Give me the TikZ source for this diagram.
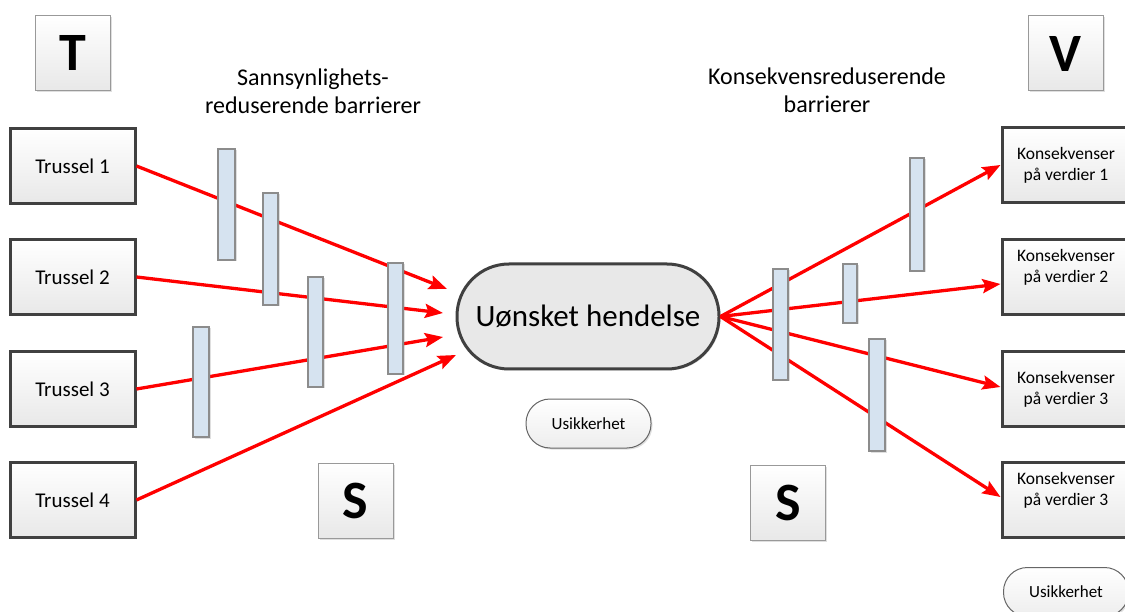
\documentclass[tikz,border=0pt]{standalone}
\usepackage{fontspec}
\setmainfont{Carlito}
\usetikzlibrary{arrows.meta,shadows}

\definecolor{edgegray}{RGB}{64,64,64}
\definecolor{barblue}{RGB}{214,227,240}
\definecolor{bargray}{RGB}{140,140,140}

\tikzset{
  softshadow/.style={drop shadow={shadow xshift=1.5pt,shadow yshift=-1.5pt,opacity=.25}},
  threatbox/.style={draw=edgegray, line width=3pt, top color=white, bottom color=black!9,
    minimum width=125pt, minimum height=75pt, inner sep=0pt, softshadow,
    font=\fontsize{21}{24}\selectfont},
  valuebox/.style={threatbox, minimum width=128pt, align=center,
    font=\fontsize{17.5}{21}\selectfont},
  raised/.style={text depth=22pt},
  letterbox/.style={draw=black!40, line width=1pt, top color=white, bottom color=black!9,
    minimum width=75pt, minimum height=75pt, inner sep=0pt, softshadow,
    font=\fontsize{54}{54}\selectfont\bfseries},
  barrier/.style={draw=bargray, line width=1.2pt, fill=barblue, inner sep=0pt, softshadow},
  eventbox/.style={draw=edgegray, line width=3pt, fill=black!9, rounded corners=52pt,
    minimum width=262pt, minimum height=105pt, softshadow,
    font=\fontsize{31}{36}\selectfont},
  doubtbox/.style={draw=black!60, line width=1pt, top color=white, bottom color=black!7,
    rounded corners=24pt, minimum width=125pt, minimum height=49pt, softshadow,
    font=\fontsize{17}{20}\selectfont},
  heading/.style={align=center, font=\fontsize{24}{28}\selectfont},
  threat/.style={red, line width=3.3pt, -{Stealth[length=18pt,width=14pt,inset=3pt]}},
}

\begin{document}
\begin{tikzpicture}[x=1pt,y=-1pt]
  \clip (0,0) rectangle (1125,612);

  % letters
  \node[letterbox] (lT) at (72.5,53) {T};
  \node[letterbox] (lV) at (1065.5,53.5) {V};
  \node[letterbox] (lS1) at (355.5,500.5) {S};
  \node[letterbox] (lS2) at (788,503) {S};

  % headings
  \node[heading] (hleft) at (313,91) {Sannsynlighets-\\reduserende barrierer};
  \node[heading] (hright) at (827,90) {Konsekvensreduserende\\barrierer};

  % threats
  \node[threatbox] (t1) at (72.5,166) {Trussel 1};
  \node[threatbox] (t2) at (72.5,277) {Trussel 2};
  \node[threatbox] (t3) at (72.5,389) {Trussel 3};
  \node[threatbox] (t4) at (72.5,500) {Trussel 4};

  % consequences
  \node[valuebox] (k1) at (1066,165) {Konsekvenser\\på verdier 1};
  \node[valuebox, raised] (k2) at (1066,277) {Konsekvenser\\på verdier 2};
  \node[valuebox] (k3) at (1066,389) {Konsekvenser\\på verdier 3};
  \node[valuebox, raised] (k4) at (1066,500) {Konsekvenser\\på verdier 3};

  % event
  \node[eventbox] (ev) at (588,316.5) {Uønsket hendelse};
  \node[doubtbox] (u1) at (588.5,423.5) {Usikkerhet};
  \node[doubtbox] (u2) at (1066,592) {Usikkerhet};

  \coordinate (e1) at (447,289);
  \coordinate (e2) at (443,313);
  \coordinate (e3) at (443,337);
  \coordinate (e4) at (456,355);

  \draw[threat] (t1.east) -- (e1);
  \draw[threat] (t2.east) -- (e2);
  \draw[threat] (t3.east) -- (e3);
  \draw[threat] (t4.east) -- (e4);

  \draw[threat] (ev.east) -- (k1.west);
  \draw[threat] (ev.east) -- ([yshift=-7pt]k2.west);
  \draw[threat] (ev.east) -- ([yshift=2pt]k3.west);
  \draw[threat] (ev.east) -- ([yshift=3pt]k4.west);

  % barriers
  \node[barrier, minimum width=17pt, minimum height=111pt] (b1) at (226.5,204.5) {};
  \node[barrier, minimum width=15pt, minimum height=112pt] (b2) at (270.5,249) {};
  \node[barrier, minimum width=15pt, minimum height=110pt] (b3) at (315.5,332) {};
  \node[barrier, minimum width=15pt, minimum height=111pt] (b4) at (395.5,318.5) {};
  \node[barrier, minimum width=16pt, minimum height=110pt] (b5) at (201,382) {};

  \node[barrier, minimum width=14pt, minimum height=113pt] (r1) at (917,214.5) {};
  \node[barrier, minimum width=15pt, minimum height=111pt] (r2) at (780.5,324.5) {};
  \node[barrier, minimum width=14pt, minimum height=59pt] (r3) at (850,293.5) {};
  \node[barrier, minimum width=16pt, minimum height=112pt] (r4) at (877,395) {};
\end{tikzpicture}
\end{document}
